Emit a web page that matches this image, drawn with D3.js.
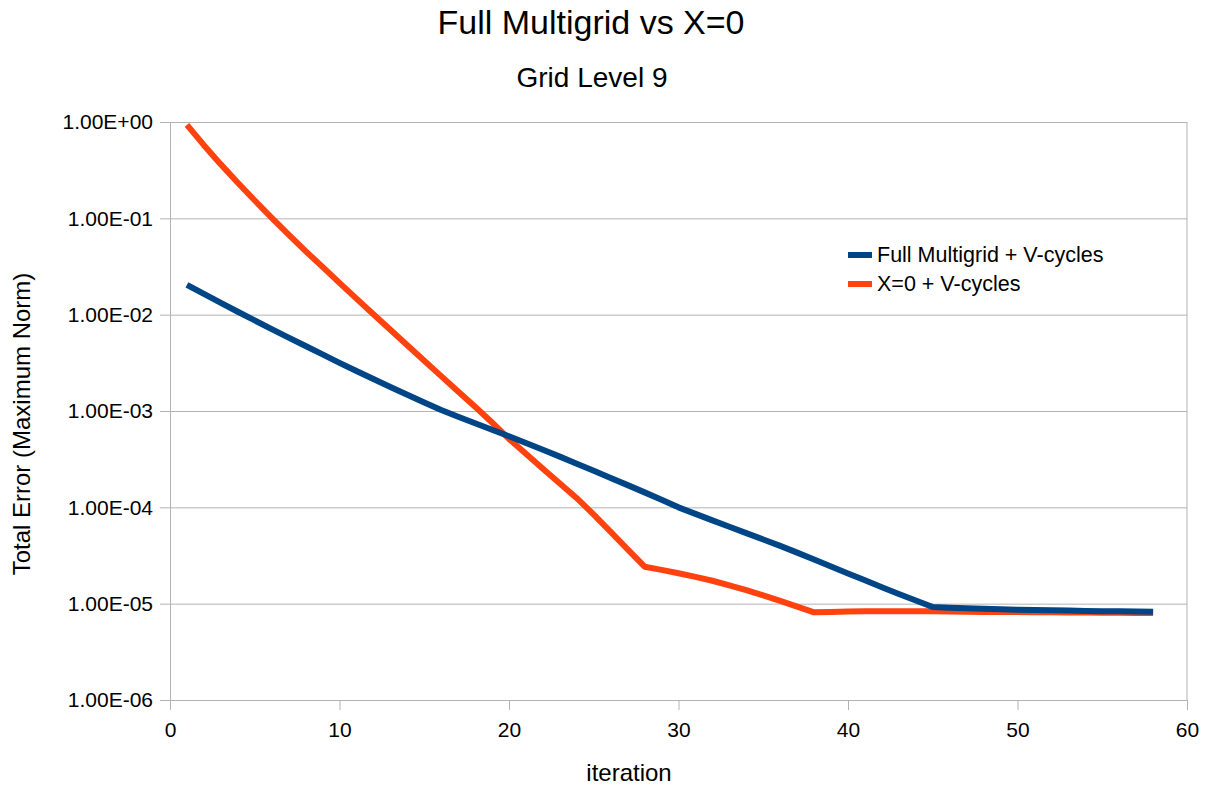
<!DOCTYPE html>
<html>
<head>
<meta charset="utf-8">
<script src="https://cdn.jsdelivr.net/npm/d3@7"></script>
<style>
  body { margin: 0; background: #fff; }
  text { font-family: 'Liberation Sans', Arial, sans-serif; fill: #000; }
</style>
</head>
<body>
<div id="chart-area"></div>
<script>
// margins so that the plot area sits where the original one does
const margin = { left: 170, right: 21, top: 122, bottom: 86 };
const width = 1208 - margin.left - margin.right;
const height = 786 - margin.top - margin.bottom;

// data (iteration 1..58)
const iterations = d3.range(1, 59);

const fullMultigrid = [
  2.042e-2, 1.641e-2, 1.324e-2, 1.072e-2, 8.71e-3, 7.08e-3, 5.78e-3, 4.73e-3, 3.87e-3, 3.162e-3,
  2.606e-3, 2.148e-3, 1.778e-3, 1.472e-3, 1.225e-3, 1.023e-3, 8.71e-4, 7.45e-4, 6.38e-4, 5.47e-4,
  4.66e-4, 3.96e-4, 3.36e-4, 2.84e-4, 2.40e-4, 2.02e-4, 1.70e-4, 1.43e-4, 1.20e-4, 1.00e-4,
  8.55e-5, 7.33e-5, 6.28e-5, 5.40e-5, 4.63e-5, 3.98e-5, 3.39e-5, 2.87e-5, 2.43e-5, 2.06e-5,
  1.75e-5, 1.48e-5, 1.26e-5, 1.08e-5, 9.25e-6, 9.08e-6, 8.95e-6, 8.85e-6, 8.75e-6, 8.67e-6,
  8.59e-6, 8.53e-6, 8.47e-6, 8.41e-6, 8.36e-6, 8.32e-6, 8.28e-6, 8.24e-6,
];

const xZero = [
  0.933, 0.575, 0.363, 0.234, 0.153, 0.1012, 6.76e-2, 4.57e-2, 3.13e-2, 2.14e-2,
  1.469e-2, 1.012e-2, 6.97e-3, 4.81e-3, 3.33e-3, 2.30e-3, 1.596e-3, 1.109e-3, 7.59e-4, 5.13e-4,
  3.59e-4, 2.51e-4, 1.77e-4, 1.245e-4, 8.41e-5, 5.56e-5, 3.66e-5, 2.42e-5, 2.24e-5, 2.07e-5,
  1.90e-5, 1.73e-5, 1.55e-5, 1.38e-5, 1.22e-5, 1.07e-5, 9.33e-6, 8.13e-6, 8.20e-6, 8.28e-6,
  8.34e-6, 8.36e-6, 8.36e-6, 8.36e-6, 8.36e-6, 8.28e-6, 8.24e-6, 8.20e-6, 8.18e-6, 8.17e-6,
  8.15e-6, 8.13e-6, 8.11e-6, 8.09e-6, 8.05e-6, 8.04e-6, 8.02e-6, 8.00e-6,
];

const seriesNames = ['Full Multigrid + V-cycles', 'X=0 + V-cycles'];
const seriesColors = ['#004586', '#ff420e'];
const xTicks = [0, 10, 20, 30, 40, 50, 60];
const yTicks = [1, 1e-1, 1e-2, 1e-3, 1e-4, 1e-5, 1e-6];
const yTickLabels = ['1.00E+00', '1.00E-01', '1.00E-02', '1.00E-03', '1.00E-04', '1.00E-05', '1.00E-06'];

const svg = d3
  .select('#chart-area')
  .append('svg')
  .attr('width', 1208)
  .attr('height', 786);

const g = svg
  .append('g')
  .attr('transform', `translate(${margin.left}, ${margin.top})`);

// Scales
const x = d3.scaleLinear().domain([0, 60]).range([0, width]);
const y = d3.scaleLog().domain([1e-6, 1]).range([height, 0]);

// grid lines
g.append('g')
  .attr('class', 'grid')
  .call(d3.axisLeft(y).tickValues(yTicks).tickSize(-width).tickFormat(''))
  .call((s) => s.select('.domain').remove())
  .selectAll('line')
  .attr('stroke', '#b3b3b3');

// frame right edge
g.append('line')
  .attr('x1', width).attr('x2', width)
  .attr('y1', 0).attr('y2', height)
  .attr('stroke', '#b3b3b3');

// Axes
const xAxis = g.append('g')
  .attr('transform', `translate(0, ${height})`)
  .call(d3.axisBottom(x).tickValues(xTicks).tickSize(10).tickSizeOuter(0).tickPadding(12));

const yAxis = g.append('g')
  .call(
    d3.axisLeft(y)
      .tickValues(yTicks)
      .tickSize(10)
      .tickSizeOuter(0)
      .tickPadding(7)
      .tickFormat((d, i) => yTickLabels[i])
  );

[xAxis, yAxis].forEach((a) => {
  a.selectAll('.domain, line').attr('stroke', '#b3b3b3');
  a.selectAll('text')
    .attr('font-size', 21)
    .attr('font-family', "'Liberation Sans', Arial, sans-serif")
    .attr('fill', '#000');
});

// Lines (blue drawn last so it sits on top at the tail)
const line = d3
  .line()
  .x((d, i) => x(iterations[i]))
  .y((d) => y(d));

[xZero, fullMultigrid].forEach((s, i) => {
  g.append('path')
    .datum(s)
    .attr('fill', 'none')
    .attr('stroke', seriesColors[1 - i])
    .attr('stroke-width', 6)
    .attr('stroke-linejoin', 'round')
    .attr('d', line);
});

// Titles
svg.append('text')
  .attr('x', 591)
  .attr('y', 34)
  .attr('text-anchor', 'middle')
  .attr('font-size', 34)
  .text('Full Multigrid vs X=0');

svg.append('text')
  .attr('x', 592)
  .attr('y', 87)
  .attr('text-anchor', 'middle')
  .attr('font-size', 28)
  .text('Grid Level 9');

svg.append('text')
  .attr('x', 629)
  .attr('y', 781)
  .attr('text-anchor', 'middle')
  .attr('font-size', 24)
  .text('iteration');

svg.append('text')
  .attr('transform', 'translate(30, 424) rotate(-90)')
  .attr('text-anchor', 'middle')
  .attr('font-size', 24)
  .text('Total Error (Maximum Norm)');

// Legend
const legend = svg.append('g').attr('transform', 'translate(848, 255)');
seriesNames.forEach((name, i) => {
  const row = legend.append('g').attr('transform', `translate(0, ${i * 29})`);
  row.append('rect')
    .attr('x', 0).attr('y', -3)
    .attr('width', 24).attr('height', 6)
    .attr('fill', seriesColors[i]);
  row.append('text')
    .attr('x', 29)
    .attr('y', 7)
    .attr('font-size', 21.5)
    .text(name);
});
</script>
</body>
</html>
